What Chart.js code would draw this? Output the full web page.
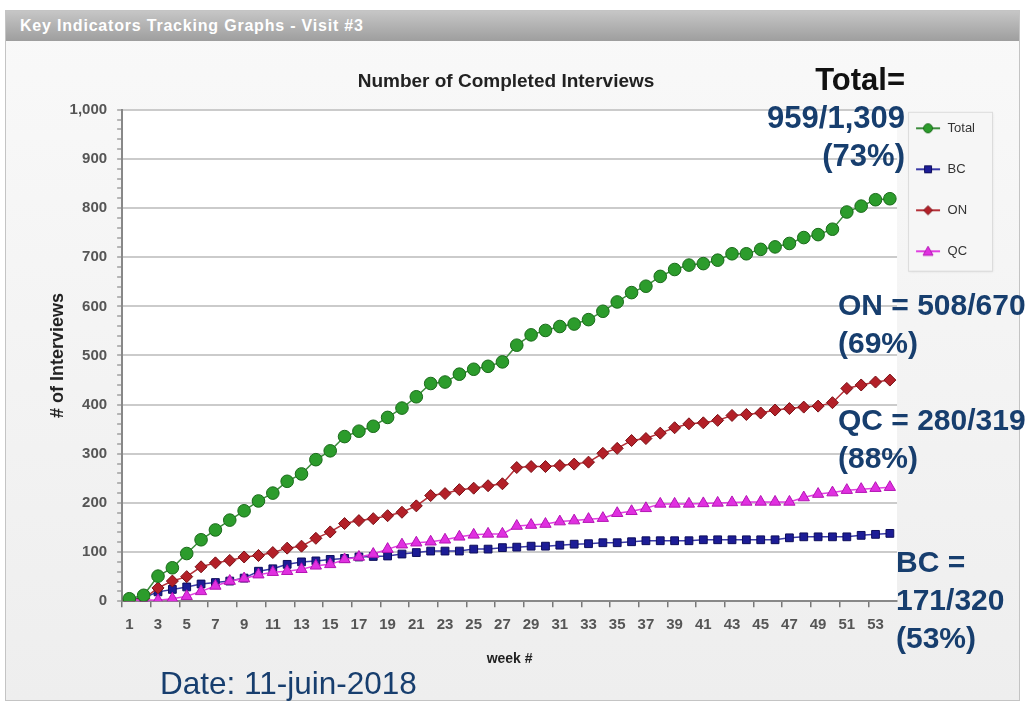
<!DOCTYPE html>
<html><head><meta charset="utf-8">
<script src="https://cdn.jsdelivr.net/npm/chart.js@4/dist/chart.umd.min.js"></script>
<style>
html,body{margin:0;padding:0;background:#fff;width:1026px;height:703px;overflow:hidden;font-family:"Liberation Sans",Arial,sans-serif;}
#panel{position:absolute;left:5px;top:10px;width:1015px;height:691px;border:1px solid #c4c4c4;background:linear-gradient(#f9f9f9,#eeeeee);box-sizing:border-box;}
#hdr{position:absolute;left:0;top:0;right:0;height:30px;background:linear-gradient(#c6c6c6,#9e9e9e);color:#fff;font:bold 16px "Liberation Sans",Arial,sans-serif;letter-spacing:0.8px;line-height:30px;padding-left:14px;}
#wrap{position:absolute;left:0;top:0;width:1026px;height:703px;}
.ann{position:absolute;font:bold 30px "Liberation Sans",Arial,sans-serif;color:#173e6e;line-height:38px;white-space:nowrap;}
</style></head>
<body>
<div id="panel"><div id="hdr">Key Indicators Tracking Graphs - Visit #3</div></div>
<div id="wrap"><canvas id="c" width="1026" height="703"></canvas></div>
<div class="ann" style="right:121px;top:61px;text-align:right;font-size:31px;"><span style="color:#111">Total=</span><br>959/1,309<br>(73%)</div>
<div class="ann" style="left:838px;top:286px;">ON = 508/670<br>(69%)</div>
<div class="ann" style="left:838px;top:401px;">QC = 280/319<br>(88%)</div>
<div class="ann" style="left:896px;top:543px;">BC =<br>171/320<br>(53%)</div>
<div class="ann" style="left:160px;top:664px;font-weight:normal;font-size:31.5px;">Date: 11-juin-2018</div>
<script>
const weeks = ['1','2','3','4','5','6','7','8','9','10','11','12','13','14','15','16','17','18','19','20','21','22','23','24','25','26','27','28','29','30','31','32','33','34','35','36','37','38','39','40','41','42','43','44','45','46','47','48','49','50','51','52','53','54'];
const totalValues = [5,12,51,68,97,125,145,165,184,204,220,244,259,288,306,335,346,356,374,393,416,443,446,462,472,478,487,521,542,551,559,564,573,590,609,628,641,661,675,684,687,694,707,707,716,721,728,740,746,757,792,804,817,819];
const bcValues = [3,7,19,24,29,35,38,41,47,61,66,75,80,82,85,87,90,91,92,96,99,102,102,102,106,106,109,110,112,112,114,116,117,119,119,121,123,123,123,123,125,125,125,125,125,125,129,131,131,131,131,134,136,138];
const onValues = [2,5,27,41,50,70,78,83,90,93,99,108,112,128,141,158,164,168,174,181,194,215,219,227,230,235,239,272,274,274,276,279,283,301,311,327,331,342,353,361,363,368,378,380,383,389,392,395,397,404,433,440,446,450];
const qcValues = [2,3,2,5,10,20,31,41,46,54,59,61,65,72,75,85,90,96,106,115,119,121,125,131,135,137,137,153,155,157,162,164,167,169,179,183,189,198,198,198,199,200,201,202,202,202,202,211,218,221,226,228,230,232];
const seriesNames = ['Total','BC','ON','QC'];
const yMax = 1000;
const yMajorStep = 100;

const styles = {
  Total:{line:'#3c8c3c',fill:'#2c9c2c',border:'#1a6a1a',shape:'circle',r:6.3},
  BC:{line:'#3a3aa6',fill:'#1c1c96',border:'#0e0e5c',shape:'rect',r:5.5},
  ON:{line:'#b43038',fill:'#b32028',border:'#7a1016',shape:'rectRot',r:6},
  QC:{line:'#e040e0',fill:'#e030e0',border:'#b414b4',shape:'triangle',r:6.5}
};
function icon(name){
  const s=styles[name]; const cv=document.createElement('canvas'); cv.width=26; cv.height=14;
  const g=cv.getContext('2d'); g.strokeStyle=s.line; g.lineWidth=2; g.beginPath(); g.moveTo(1,7); g.lineTo(25,7); g.stroke();
  g.fillStyle=s.fill; g.strokeStyle=s.border; g.lineWidth=1; g.beginPath();
  if(s.shape==='circle'){g.arc(13,7,4.5,0,Math.PI*2);}
  else if(s.shape==='rect'){g.rect(9.5,3.5,7,7);}
  else if(s.shape==='rectRot'){g.moveTo(13,2.5);g.lineTo(17.5,7);g.lineTo(13,11.5);g.lineTo(8.5,7);g.closePath();}
  else {g.moveTo(13,2);g.lineTo(18,11);g.lineTo(8,11);g.closePath();}
  g.fill(); g.stroke(); return cv;
}
const dataMap = {Total: totalValues, BC: bcValues, ON: onValues, QC: qcValues};
const orderMap = {Total:0, QC:1, ON:2, BC:3};
const datasets = seriesNames.map(n=>({
  label:n, data:dataMap[n], order:orderMap[n],
  borderColor:styles[n].line, borderWidth:1.5, backgroundColor:styles[n].fill,
  pointStyle:styles[n].shape, pointRadius:styles[n].r, pointHoverRadius:styles[n].r,
  pointBackgroundColor:styles[n].fill, pointBorderColor:styles[n].border, pointBorderWidth:1,
  tension:0, fill:false, legendIcon:icon(n)
}));

const bgPlugin = {
  id:'bg',
  afterLayout(chart){
    const lg = chart.legend; const a = chart.chartArea;
    const h = lg.bottom - lg.top;
    lg.left -= 10; lg.right -= 10; lg.top = a.top - 16; lg.bottom = lg.top + h;
    const t = chart.titleBlock; if (t) { t.left -= 15; t.right -= 15; }
  },
  beforeDraw(chart){
    const {ctx, chartArea:a} = chart; ctx.save();
    ctx.fillStyle='#ffffff'; ctx.fillRect(a.left,a.top,a.right-a.left,a.bottom-a.top);
    const lg = chart.legend;
    const x = lg.left+21, y = lg.top+18, w = 84, h = 159;
    ctx.shadowColor='rgba(0,0,0,0.12)'; ctx.shadowBlur=3; ctx.shadowOffsetX=1; ctx.shadowOffsetY=1;
    ctx.fillStyle='#f6f6f6'; ctx.fillRect(x,y,w,h);
    ctx.shadowColor='transparent';
    ctx.strokeStyle='#dcdcdc'; ctx.lineWidth=1; ctx.strokeRect(x+0.5,y+0.5,w,h);
    ctx.restore();
  }
};

new Chart(document.getElementById('c'), {
  type:'line',
  data:{labels:weeks, datasets},
  plugins:[bgPlugin],
  options:{
    responsive:false, animation:false, devicePixelRatio:1,
    layout:{padding:{left:47,right:31,top:0,bottom:35}},
    plugins:{
      title:{display:true,text:'Number of Completed Interviews',color:'#222',font:{family:'"Liberation Sans", Arial',size:19,weight:'bold'},padding:{top:70,bottom:17}},
      legend:{display:true,position:'right',align:'start',
        labels:{usePointStyle:true,pointStyleWidth:26,padding:28,color:'#333',font:{family:'"Liberation Sans", Arial',size:13},
          sort:(a,b)=>a.datasetIndex-b.datasetIndex,
          generateLabels(chart){
            return chart.data.datasets.map((d,i)=>({text:d.label,pointStyle:d.legendIcon,fillStyle:d.pointBackgroundColor,strokeStyle:d.borderColor,lineWidth:0,datasetIndex:i,hidden:false,fontColor:'#333'}));
          }}},
      tooltip:{enabled:false}
    },
    scales:{
      x:{type:'category',offset:true,
        grid:{offset:true,drawOnChartArea:false,tickLength:6,lineWidth:1.5,color:(c)=> (c.index%2===0?'#777':'rgba(0,0,0,0)')},
        border:{display:true,color:'#888',width:2},
        ticks:{autoSkip:false,maxRotation:0,minRotation:0,padding:9,color:'#555',font:{family:'"Liberation Sans", Arial',size:15,weight:'bold'},
          callback:(v,i)=> (i%2===0 ? weeks[i] : '')},
        title:{display:true,text:'week #',color:'#222',font:{family:'"Liberation Sans", Arial',size:14,weight:'bold'},padding:{top:8,bottom:0}}
      },
      y:{min:0,max:yMax,
        grid:{lineWidth:2,tickLength:5,color:(c)=> (c.tick && c.tick.value%yMajorStep===0 ? '#cbcbcb':'rgba(0,0,0,0)'),tickColor:'#777',tickWidth:1},
        border:{display:true,color:'#888',width:2},
        ticks:{stepSize:20,autoSkip:false,maxTicksLimit:60,padding:10,color:'#555',font:{family:'"Liberation Sans", Arial',size:15,weight:'bold'},
          callback:(v)=> (v%yMajorStep===0 ? v.toLocaleString('en-US') : '')},
        title:{display:true,text:'# of Interviews',color:'#222',font:{family:'"Liberation Sans", Arial',size:18,weight:'bold'},padding:{top:0,bottom:-9}}
      }
    }
  }
});
</script>
</body></html>
